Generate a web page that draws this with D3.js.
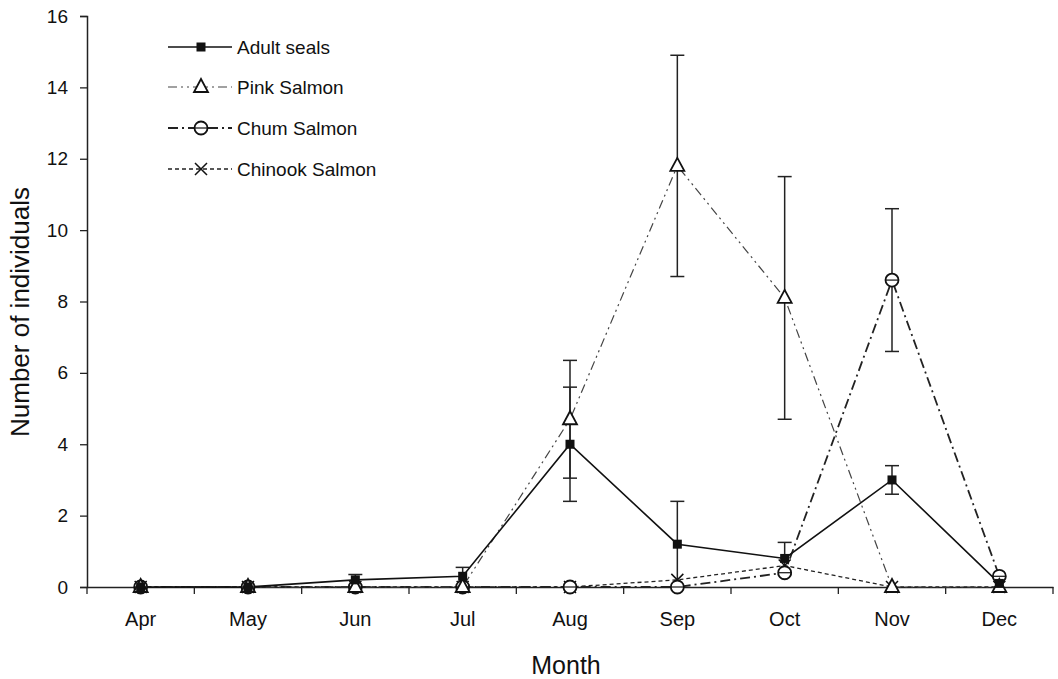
<!DOCTYPE html>
<html><head><meta charset="utf-8">
<script src="https://cdn.jsdelivr.net/npm/d3@7"></script>
<style>body{margin:0;background:#fff}svg{display:block}text{font-family:"Liberation Sans",Arial,sans-serif;fill:#111}</style>
</head><body><svg id="c" width="1058" height="679"></svg>
<script>
const months = ["Apr","May","Jun","Jul","Aug","Sep","Oct","Nov","Dec"];
const yTicks = [0,2,4,6,8,10,12,14,16];
const adultSeals = [0,0,0.2,0.3,4.0,1.2,0.8,3.0,0.1];
const adultSealsErr = [0,0,0.15,0.25,1.6,1.2,0.45,0.4,0];
const pinkSalmon = [0,0,0,0,4.7,11.8,8.1,0,0];
const pinkSalmonErr = [0,0,0,0,1.65,3.1,3.4,0,0];
const chumSalmon = [0,0,0,0,0,0,0.4,8.6,0.3];
const chumSalmonErr = [0,0,0,0,0,0,0,2.0,0];
const chinookSalmon = [0,0,0,0,0,0.2,0.6,0,0];
const chinookSalmonErr = [0,0,0,0,0,0,0,0,0];
const seriesNames = ["Adult seals","Pink Salmon","Chum Salmon","Chinook Salmon"];

const svg = d3.select("#c");
const x = d3.scaleBand().domain(months).range([87,1053]).padding(0);
const cx = m => x(m) + x.bandwidth()/2;
const y = d3.scaleLinear().domain([0,16]).range([587,16]);

const series = [
  {name:seriesNames[0], vals:adultSeals, err:adultSealsErr, dash:null, w:1.6, color:"#111", marker:"square"},
  {name:seriesNames[1], vals:pinkSalmon, err:pinkSalmonErr, dash:"9,4,2,4,2,4", w:1.2, color:"#444", marker:"triangle"},
  {name:seriesNames[2], vals:chumSalmon, err:chumSalmonErr, dash:"10,4,2,4", w:1.8, color:"#222", marker:"circle"},
  {name:seriesNames[3], vals:chinookSalmon, err:chinookSalmonErr, dash:"4,3", w:1.3, color:"#222", marker:"cross"}
];

// axes
const yAxis = svg.append("g").attr("transform","translate(87,0)")
  .call(d3.axisLeft(y).tickValues(yTicks).tickSize(7).tickPadding(12));
yAxis.select(".domain").attr("stroke","#222").attr("stroke-width",1.5);
yAxis.selectAll(".tick line").attr("stroke","#222").attr("stroke-width",1.3);
yAxis.selectAll(".tick text").style("font-size","19px").attr("fill","#111");

const xAxis = svg.append("g").attr("transform","translate(0,587)")
  .call(d3.axisBottom(x).tickSize(0).tickPadding(25));
xAxis.select(".domain").attr("stroke","#222").attr("stroke-width",1.5);
xAxis.selectAll(".tick text").style("font-size","20px").attr("fill","#111");
// boundary ticks
const bounds = months.map(m => x(m)).concat([x(months[months.length-1]) + x.bandwidth()]);
svg.append("g").selectAll("line").data(bounds).join("line")
  .attr("x1",d=>d).attr("x2",d=>d).attr("y1",587).attr("y2",594)
  .attr("stroke","#222").attr("stroke-width",1.3);

svg.append("text").attr("transform","translate(29,312) rotate(-90)")
  .attr("text-anchor","middle").style("font-size","26px").text("Number of individuals");
svg.append("text").attr("x",566).attr("y",674).attr("text-anchor","middle")
  .style("font-size","25px").text("Month");

const line = d3.line().x((d,i)=>cx(months[i])).y(d=>y(d));

function drawMarker(g, type, px, py){
  if(type==="square"){
    g.append("rect").attr("x",px-4.5).attr("y",py-4.5).attr("width",9).attr("height",9).attr("fill","#111");
  } else if(type==="triangle"){
    g.append("path").attr("d",`M${px},${py-8}L${px+7},${py+5}L${px-7},${py+5}Z`)
      .attr("fill","#fff").attr("stroke","#111").attr("stroke-width",1.8);
  } else if(type==="circle"){
    g.append("circle").attr("cx",px).attr("cy",py).attr("r",6.5)
      .attr("fill","#fff").attr("stroke","#111").attr("stroke-width",1.8);
    g.append("line").attr("x1",px-6.5).attr("x2",px+6.5).attr("y1",py).attr("y2",py)
      .attr("stroke","#111").attr("stroke-width",1.2);
  } else if(type==="cross"){
    g.append("path").attr("d",`M${px-6},${py-6}L${px+6},${py+6}M${px-6},${py+6}L${px+6},${py-6}`)
      .attr("stroke","#111").attr("stroke-width",1.5);
  }
}

// error bars
const eg = svg.append("g");
series.forEach(s=>{
  s.vals.forEach((v,i)=>{
    const e = s.err[i]; if(!e) return;
    const px = cx(months[i]);
    const lo = Math.max(0, v-e), hi = v+e;
    eg.append("line").attr("x1",px).attr("x2",px).attr("y1",y(lo)).attr("y2",y(hi))
      .attr("stroke","#222").attr("stroke-width",1.5);
    [lo,hi].forEach(t=>{
      if(t<=0) return;
      eg.append("line").attr("x1",px-7).attr("x2",px+7).attr("y1",y(t)).attr("y2",y(t))
        .attr("stroke","#222").attr("stroke-width",1.5);
    });
  });
});

// lines
series.slice().reverse().forEach(s=>{
  svg.append("path").datum(s.vals).attr("d",line).attr("fill","none")
    .attr("stroke",s.color).attr("stroke-width",s.w)
    .attr("stroke-dasharray",s.dash);
});
// markers
series.slice().reverse().forEach(s=>{
  const g = svg.append("g");
  s.vals.forEach((v,i)=>drawMarker(g, s.marker, cx(months[i]), y(v)));
});

// legend
const lg = svg.append("g");
const rows = [47,87,128,169];
series.forEach((s,i)=>{
  const ry = rows[i];
  lg.append("line").attr("x1",168).attr("x2",232).attr("y1",ry).attr("y2",ry)
    .attr("stroke",s.color).attr("stroke-width",s.w).attr("stroke-dasharray",s.dash);
  drawMarker(lg, s.marker, 201, ry);
  lg.append("text").attr("x",237).attr("y",ry+7).style("font-size","19px").text(s.name);
});
</script></body></html>
